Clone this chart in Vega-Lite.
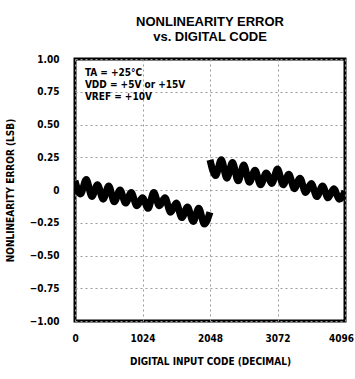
{
  "$schema": "https://vega.github.io/schema/vega-lite/v6.json",
  "width": 270,
  "height": 262,
  "autosize": {"type": "none"},
  "padding": {"left": 75, "top": 59, "right": 10, "bottom": 58},
  "background": "white",
  "title": {
    "text": ["NONLINEARITY ERROR", "vs. DIGITAL CODE"],
    "font": "Liberation Sans",
    "fontSize": 13,
    "fontWeight": "bold",
    "anchor": "middle",
    "lineHeight": 15,
    "offset": 10,
    "color": "black"
  },
  "config": {
    "view": {"stroke": "black", "strokeWidth": 3},
    "axis": {
      "labelFont": "DejaVu Sans Condensed",
      "labelFontWeight": "bold",
      "labelFontSize": 10,
      "labelColor": "black",
      "labelOverlap": false,
      "titleFont": "DejaVu Sans Condensed",
      "titleFontWeight": "bold",
      "titleColor": "black",
      "domain": false,
      "ticks": false,
      "grid": true,
      "gridColor": "#9a9a9a",
      "gridDash": [2, 3],
      "gridWidth": 1,
      "tickCount": 20
    }
  },
  "datasets": {
    "curve": [
      {"code": 0, "err": 0.07, "seg": "a"},
      {"code": 85, "err": -0.03, "seg": "a"},
      {"code": 171, "err": 0.08, "seg": "a"},
      {"code": 256, "err": -0.05, "seg": "a"},
      {"code": 341, "err": 0.04, "seg": "a"},
      {"code": 427, "err": -0.07, "seg": "a"},
      {"code": 512, "err": 0.03, "seg": "a"},
      {"code": 597, "err": -0.09, "seg": "a"},
      {"code": 683, "err": 0.0, "seg": "a"},
      {"code": 768, "err": -0.1, "seg": "a"},
      {"code": 853, "err": -0.02, "seg": "a"},
      {"code": 939, "err": -0.12, "seg": "a"},
      {"code": 1024, "err": -0.06, "seg": "a"},
      {"code": 1109, "err": -0.14, "seg": "a"},
      {"code": 1195, "err": -0.02, "seg": "a"},
      {"code": 1280, "err": -0.12, "seg": "a"},
      {"code": 1365, "err": -0.06, "seg": "a"},
      {"code": 1451, "err": -0.17, "seg": "a"},
      {"code": 1536, "err": -0.1, "seg": "a"},
      {"code": 1621, "err": -0.21, "seg": "a"},
      {"code": 1707, "err": -0.13, "seg": "a"},
      {"code": 1792, "err": -0.24, "seg": "a"},
      {"code": 1877, "err": -0.14, "seg": "a"},
      {"code": 1963, "err": -0.26, "seg": "a"},
      {"code": 2047, "err": -0.17, "seg": "a"},
      {"code": 2048, "err": 0.23, "seg": "b"},
      {"code": 2133, "err": 0.11, "seg": "b"},
      {"code": 2219, "err": 0.23, "seg": "b"},
      {"code": 2304, "err": 0.09, "seg": "b"},
      {"code": 2389, "err": 0.21, "seg": "b"},
      {"code": 2475, "err": 0.07, "seg": "b"},
      {"code": 2560, "err": 0.19, "seg": "b"},
      {"code": 2645, "err": 0.06, "seg": "b"},
      {"code": 2731, "err": 0.15, "seg": "b"},
      {"code": 2816, "err": 0.04, "seg": "b"},
      {"code": 2901, "err": 0.13, "seg": "b"},
      {"code": 2987, "err": 0.05, "seg": "b"},
      {"code": 3072, "err": 0.16, "seg": "b"},
      {"code": 3157, "err": 0.04, "seg": "b"},
      {"code": 3243, "err": 0.12, "seg": "b"},
      {"code": 3328, "err": 0.01, "seg": "b"},
      {"code": 3413, "err": 0.09, "seg": "b"},
      {"code": 3499, "err": -0.02, "seg": "b"},
      {"code": 3584, "err": 0.05, "seg": "b"},
      {"code": 3669, "err": -0.05, "seg": "b"},
      {"code": 3755, "err": 0.03, "seg": "b"},
      {"code": 3840, "err": -0.06, "seg": "b"},
      {"code": 3925, "err": 0.01, "seg": "b"},
      {"code": 4011, "err": -0.07, "seg": "b"},
      {"code": 4096, "err": -0.01, "seg": "b"}
    ],
    "notes": [
      {"code": 150, "err": 0.89, "label": "TA = +25°C"},
      {"code": 150, "err": 0.8, "label": "VDD = +5V or +15V"},
      {"code": 150, "err": 0.71, "label": "VREF = +10V"}
    ]
  },
  "layer": [
    {
      "data": {"name": "curve"},
      "mark": {"type": "line", "color": "black", "strokeWidth": 7, "interpolate": "monotone", "clip": true},
      "encoding": {
        "x": {
          "field": "code", "type": "quantitative",
          "scale": {"domain": [0, 4096], "nice": false, "zero": false},
          "axis": {"values": [0, 1024, 2048, 3072, 4096], "format": "d", "title": "DIGITAL INPUT CODE (DECIMAL)", "titleFontSize": 10, "labelPadding": 12, "titlePadding": 13, "labelFlush": false,
            "labelOffset": {"condition": {"test": "datum.value == 4096", "value": -4}, "value": 0}}
        },
        "y": {
          "field": "err", "type": "quantitative",
          "scale": {"domain": [-1, 1], "nice": false},
          "axis": {"values": [-1, -0.75, -0.5, -0.25, 0, 0.25, 0.5, 0.75, 1], "tickCount": 20, "labelOverlap": false, "labelExpr": "datum.value == 0 ? '0' : format(datum.value, '.2f')", "title": "NONLINEARITY ERROR (LSB)", "titleFontSize": 10, "labelPadding": 16, "titlePadding": 14, "labelFlush": false}
        },
        "detail": {"field": "seg"}
      }
    },
    {
      "data": {"name": "notes"},
      "mark": {"type": "text", "align": "left", "baseline": "middle", "font": "DejaVu Sans Condensed", "fontWeight": "bold", "fontSize": 10, "color": "black"},
      "encoding": {
        "x": {"field": "code", "type": "quantitative"},
        "y": {"field": "err", "type": "quantitative"},
        "text": {"field": "label"}
      }
    }
  ]
}
